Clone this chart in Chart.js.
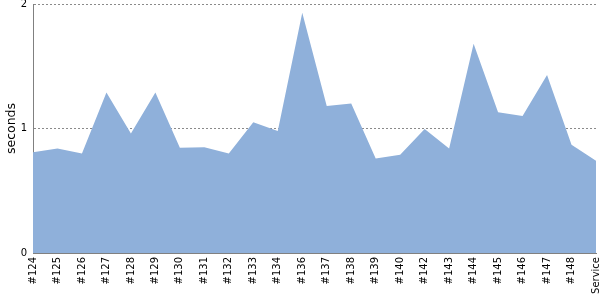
<!DOCTYPE html>
<html>
<head>
<meta charset="utf-8">
<script src="https://cdn.jsdelivr.net/npm/chart.js@4/dist/chart.umd.min.js"></script>
<style>
  html, body { margin: 0; padding: 0; background: #fff; }
  #wrap { width: 600px; height: 300px; }
</style>
</head>
<body>
<div id="wrap"><canvas id="chart"></canvas></div>
<script>
// build labels along the x axis
const builds = ['#124', '#125', '#126', '#127', '#128', '#129', '#130', '#131', '#132', '#133', '#134', '#136',
  '#137', '#138', '#139', '#140', '#142', '#143', '#144', '#145', '#146', '#147', '#148', 'Service']
// duration per build, seconds
const durations = [0.81, 0.84, 0.80, 1.29, 0.96, 1.29, 0.845, 0.85, 0.80, 1.05, 0.98, 1.93,
  1.18, 1.20, 0.76, 0.79, 0.995, 0.84, 1.68, 1.13, 1.10, 1.43, 0.87, 0.74]
const yTicks = [0, 1, 2]

const FONT = "'DejaVu Sans', sans-serif"
const FILL = '#8fb0da'

Chart.defaults.font.family = FONT
Chart.defaults.color = '#000'

new Chart(document.getElementById('chart'), {
  type: 'line',
  data: {
    labels: builds,
    datasets: [{
      data: durations,
      fill: 'origin',
      backgroundColor: FILL,
      borderColor: 'rgba(0,0,0,0)',
      borderWidth: 0,
      pointRadius: 0,
      tension: 0
    }]
  },
  options: {
    responsive: true,
    maintainAspectRatio: false,
    animation: false,
    layout: { padding: { top: 4, right: 4, left: 0, bottom: 0 } },
    plugins: { legend: { display: false }, tooltip: { enabled: false } },
    scales: {
      x: {
        offset: false,
        grid: { drawOnChartArea: false, drawTicks: false },
        border: { display: true, color: '#808080', width: 1 },
        ticks: {
          autoSkip: false,
          minRotation: 90,
          maxRotation: 90,
          padding: 4,
          font: { size: 10 }
        },
        afterFit: s => { s.height = 47; s.paddingLeft = 0; s.paddingRight = 0 }
      },
      y: {
        min: yTicks[0],
        max: yTicks[yTicks.length - 1],
        afterBuildTicks: s => { s.ticks = yTicks.map(v => ({ value: v })) },
        grid: {
          drawTicks: false,
          color: c => c.tick && c.tick.value === 0 ? 'rgba(0,0,0,0)' : '#8a8a8a'
        },
        border: { display: true, color: '#808080', width: 1, dash: [2, 2] },
        ticks: { padding: 6, font: { size: 10 } },
        title: { display: true, text: 'seconds', font: { size: 12.5 }, padding: { top: 4, bottom: 4 } },
        afterFit: s => { s.width = 33; s.paddingTop = 0; s.paddingBottom = 0 }
      }
    }
  }
})
</script>
</body>
</html>
